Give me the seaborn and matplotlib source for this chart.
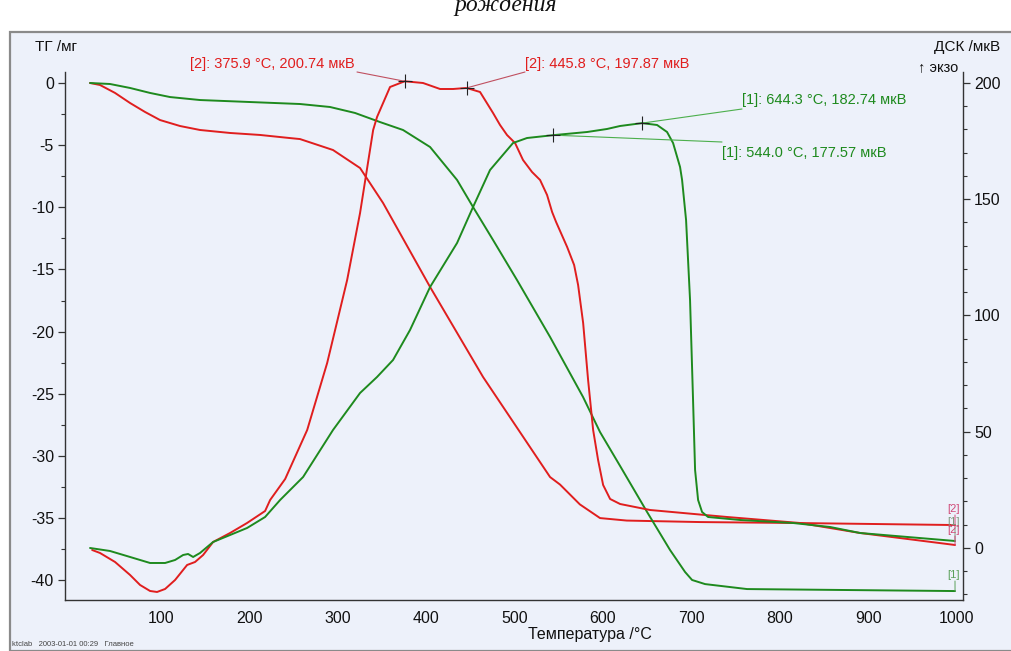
import numpy as np
import pandas as pd
import matplotlib
matplotlib.use("Agg")
import matplotlib.pyplot as plt
from matplotlib.patches import Rectangle
from matplotlib.ticker import FixedLocator
import seaborn as sns

sns.set_style("white")
plt.rcParams['font.family'] = ['Liberation Sans', 'DejaVu Sans']
plt.rcParams['axes.unicode_minus'] = False

# ---------------- data ----------------
tg2_t = [20.0, 31.3, 48.3, 65.3, 82.2, 99.2, 121.8, 144.4, 178.4, 212.3, 246.2, 257.5, 294.8,
         325.4, 351.4, 404.6, 464.5, 540.3, 551.5, 574.0, 596.8, 627.0, 709.8, 822.9, 998.3]
tg2_m = [0.0, -0.16, -0.80, -1.61, -2.33, -2.98, -3.46, -3.78, -4.02, -4.18, -4.43, -4.51, -5.39,
         -6.84, -9.65, -16.41, -23.65, -31.70, -32.3, -33.9, -35.0, -35.2, -35.32, -35.40, -35.56]

tg1_t = [20.0, 42.6, 65.3, 87.9, 110.5, 144.4, 200.9, 257.5, 291.4, 319.7, 347.9, 374.0, 404.6,
         435.1, 453.2, 475.8, 502.9, 540.3, 577.6, 596.8, 619.5, 650.0, 676.0, 693.0, 700.9,
         715.6, 763.1, 879.6, 998.3]
tg1_m = [0.0, -0.08, -0.40, -0.80, -1.13, -1.37, -1.53, -1.69, -1.93, -2.41, -3.14, -3.78, -5.15,
         -7.80, -9.98, -12.63, -15.85, -20.43, -25.26, -28.08, -30.81, -34.51, -37.57, -39.34, -39.98,
         -40.31, -40.71, -40.79, -40.87]

dsc1_t = [20.0, 42.6, 65.3, 87.9, 104.9, 116.2, 125.3, 130.9, 136.6, 144.4, 159.2, 178.4, 197.6,
          218.0, 235.0, 261.0, 294.8, 325.4, 344.6, 362.7, 381.9, 404.6, 435.1, 453.2, 472.4,
          498.4, 514.2, 544.0, 582.1, 604.7, 619.5, 644.3, 661.3, 672.6, 679.4, 687.3, 689.6,
          694.1, 698.6, 702.0, 704.3, 707.7, 712.2, 719.0, 755.2, 815.1, 857.0, 890.9, 998.3]
dsc1_v = [0.0, -1.29, -3.87, -6.45, -6.45, -5.16, -3.01, -2.58, -3.87, -2.15, 2.58, 5.59, 8.60,
          13.33, 20.65, 30.54, 50.75, 66.67, 73.55, 80.86, 93.76, 112.26, 131.18, 146.67, 162.58,
          174.19, 176.34, 177.57, 178.92, 180.22, 181.51, 182.74, 181.94, 178.92, 174.19, 163.87, 158.28,
          141.08, 106.67, 63.66, 33.55, 20.65, 15.48, 13.33, 12.04, 10.75, 9.03, 6.45, 3.01]

dsc2_t = [22.4, 31.3, 48.3, 65.3, 76.6, 87.9, 95.8, 104.9, 116.2, 129.8, 138.8, 147.9, 159.2,
          178.4, 197.6, 218.0, 223.7, 240.7, 265.6, 288.2, 310.8, 325.4, 340.2, 344.6, 359.3,
          375.9, 396.6, 415.9, 430.6, 445.8, 461.1, 475.8, 483.7, 491.6, 500.7, 509.7, 519.9,
          529.0, 536.9, 542.6, 547.1, 559.6, 567.5, 572.0, 577.7, 583.3, 589.0, 594.6, 600.3,
          608.2, 619.5, 653.4, 740.5, 822.9, 890.9, 998.3]
dsc2_v = [-0.86, -2.15, -6.02, -11.61, -15.91, -18.49, -18.92, -17.63, -13.76, -7.31, -6.02, -3.01, 2.58,
          6.45, 10.75, 15.91, 20.65, 29.68, 50.75, 79.57, 115.27, 144.09, 179.78, 185.38, 198.28,
          200.74, 200.0, 197.42, 197.42, 197.87, 196.13, 187.10, 181.94, 177.63, 174.19, 166.88, 161.72,
          158.28, 151.83, 144.52, 140.22, 129.46, 121.72, 113.12, 96.77, 72.26, 50.75, 37.85, 27.10,
          21.08, 18.92, 16.34, 13.33, 10.75, 6.45, 1.29]

# marked peaks: (sample, temperature, signal)
peak_sample = ["[2]", "[2]", "[1]", "[1]"]
peak_t = [375.9, 445.8, 644.3, 544.0]
peak_v = [200.74, 197.87, 182.74, 177.57]

x_major = [100, 200, 300, 400, 500, 600, 700, 800, 900, 1000]
tg_major = [0, -5, -10, -15, -20, -25, -30, -35, -40]
dsc_major = [0, 50, 100, 150, 200]

RED = "#E01E1E"
GREEN = "#1E8A1E"
BG = "#EDF1FA"

W, H = 1011, 651
fig = plt.figure(figsize=(W / 100, H / 100), dpi=100)
fig.patch.set_facecolor("white")

# frame of the instrument window
frame = Rectangle((10 / W, 0), 1.2, (H - 32) / H, transform=fig.transFigure,
                  facecolor=BG, edgecolor="#8A8A8A", lw=1.6, zorder=-10)
fig.patches.append(frame)

ax = fig.add_axes([65 / W, (H - 600) / H, (963 - 65) / W, (600 - 72) / H])
ax.set_facecolor("none")
ax2 = ax.twinx()
ax2.set_facecolor("none")

df_tg2 = pd.DataFrame({"t": tg2_t, "v": tg2_m})
df_tg1 = pd.DataFrame({"t": tg1_t, "v": tg1_m})
df_d1 = pd.DataFrame({"t": dsc1_t, "v": dsc1_v})
df_d2 = pd.DataFrame({"t": dsc2_t, "v": dsc2_v})

lw = 1.4
sns.lineplot(data=df_tg2, x="t", y="v", ax=ax, color=RED, lw=lw, sort=False, estimator=None)
sns.lineplot(data=df_tg1, x="t", y="v", ax=ax, color=GREEN, lw=lw, sort=False, estimator=None)
sns.lineplot(data=df_d2, x="t", y="v", ax=ax2, color=RED, lw=lw, sort=False, estimator=None)
sns.lineplot(data=df_d1, x="t", y="v", ax=ax2, color=GREEN, lw=lw, sort=False, estimator=None)

ax.set_xlim(-8.3, 1007.3)
ax.set_ylim(-41.59, 0.885)
ax2.set_ylim(-22.37, 204.73)

for a in (ax, ax2):
    a.set_xlabel("")
    a.set_ylabel("")
    a.spines["top"].set_visible(False)
    for s in a.spines.values():
        s.set_color("#333333")
        s.set_linewidth(1.0)

ax.spines["right"].set_visible(False)
ax2.spines["left"].set_visible(False)
ax2.spines["bottom"].set_visible(False)

ax.xaxis.set_major_locator(FixedLocator(x_major))
ax.xaxis.set_minor_locator(FixedLocator([v for v in range(25, 1001, 25) if v % 100]))
ax.yaxis.set_major_locator(FixedLocator(tg_major))
ax.yaxis.set_minor_locator(FixedLocator([v / 2 for v in range(-80, 1, 5) if v % 10]))
ax2.yaxis.set_major_locator(FixedLocator(dsc_major))
ax2.yaxis.set_minor_locator(FixedLocator([v for v in range(-20, 201, 10) if v % 50]))

ax.tick_params(axis="both", which="major", direction="out", length=5, width=0.9,
               color="#333333", labelsize=11.5, labelcolor="#111111", pad=3)
ax.tick_params(axis="both", which="minor", direction="out", length=3, width=0.8, color="#333333")
ax2.tick_params(axis="y", which="major", direction="out", length=5, width=0.9,
                color="#333333", labelsize=11.5, labelcolor="#111111", pad=3)
ax2.tick_params(axis="y", which="minor", direction="out", length=3, width=0.8, color="#333333")
ax.grid(False)
ax2.grid(False)

# peak markers and labels (positions in figure pixels, measured from top)
label_pos = [(355, 64, 357, 72, "right"), (525, 64, 525, 72, "left"),
             (742, 100, 742, 109, "left"), (722, 153, 722, 142, "left")]
for s, t, v, (tx, ty, lx, ly, ha) in zip(peak_sample, peak_t, peak_v, label_pos):
    col = RED if s == "[2]" else GREEN
    lcol = "#C05060" if s == "[2]" else "#4CAF4C"
    ax2.annotate("", xy=(t, v), xycoords="data", xytext=(lx, H - ly),
                 textcoords="figure pixels",
                 arrowprops=dict(arrowstyle="-", color=lcol, lw=0.8, shrinkA=0, shrinkB=0))
    ax2.plot([t], [v], marker="+", color="#222222", ms=10, mew=0.8, zorder=5)
    fig.text(tx / W, (H - ty) / H, f"{s}: {t:.1f} °C, {v:.2f} мкВ", ha=ha, va="center",
             color=col, fontsize=10.5)

# end-of-curve labels
end_labels = [("[2]", 509, "#D04A78", tg2_m[-1], ax), ("[1]", 522, "#7E9A7E", dsc1_v[-1], ax2),
              ("[2]", 530, "#D04A78", dsc2_v[-1], ax2), ("[1]", 575, "#5AA05A", tg1_m[-1], ax)]
for txt, py, col, yv, a in end_labels:
    fig.text(954 / W, (H - py) / H, txt, ha="center", va="center", color=col, fontsize=8)
    a.annotate("", xy=(998.3, yv), xycoords="data", xytext=(955, H - py - 6),
               textcoords="figure pixels",
               arrowprops=dict(arrowstyle="-", color=col, lw=0.7, shrinkA=0, shrinkB=0))

# axis titles and other texts
fig.text(35 / W, (H - 47) / H, "ТГ /мг", ha="left", va="center", fontsize=11, color="#111111")
fig.text(1000 / W, (H - 47) / H, "ДСК /мкВ", ha="right", va="center", fontsize=11, color="#111111")
fig.text(958 / W, (H - 67) / H, "↑ экзо", ha="right", va="center", fontsize=10.5, color="#111111")
fig.text(590 / W, (H - 634) / H, "Температура /°C", ha="center", va="center", fontsize=11.5,
         color="#111111")
fig.text(12 / W, (H - 645) / H, "ktclab   2003-01-01 00:29   Главное", ha="left", va="center",
         fontsize=5.5, color="#444444")
fig.text(0.5, (H - 11) / H, "рождения", ha="center", va="baseline", fontsize=17,
         fontstyle="italic", family=["Liberation Serif", "DejaVu Serif"], color="#111111")

fig.savefig("out.png", dpi=100, facecolor=fig.get_facecolor())
